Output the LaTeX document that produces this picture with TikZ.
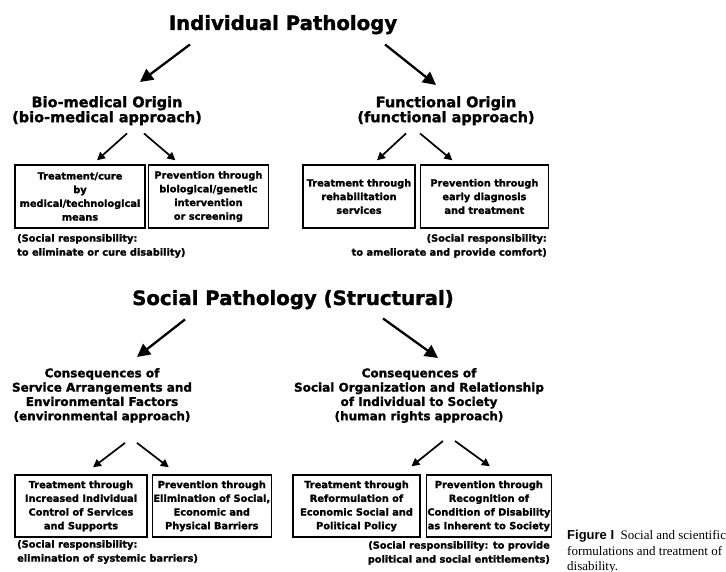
\documentclass[tikz,border=0pt]{standalone}
\usepackage{fontspec}
\setmainfont{DejaVu Sans}[BoldFeatures={FakeBold=1.5}]
\newfontfamily\captionserif{Liberation Serif}
\newfontfamily\captionsans{Liberation Sans}
\usepackage{tikz}
\usetikzlibrary{arrows.meta, positioning, calc}
\tikzstyle{pathology}   = [inner sep=0pt, font=\fontsize{19.7}{24}\selectfont\bfseries]
\tikzstyle{origin}      = [inner sep=0pt, align=center, font=\fontsize{14.5}{15}\selectfont\bfseries]
\tikzstyle{consequence} = [inner sep=0pt, align=center, font=\fontsize{12}{14.3}\selectfont\bfseries]
\tikzstyle{measure}     = [rectangle, draw=black, line width=1.4pt, minimum height=63pt, inner sep=1pt, align=center, font=\fontsize{9.8}{13.7}\selectfont\bfseries]
\tikzstyle{duty}        = [inner sep=0pt, font=\fontsize{9.8}{14}\selectfont\bfseries]
\tikzstyle{bigarrow}    = [line width=2.3pt, -{Triangle[length=13pt,width=13pt]}]
\tikzstyle{arrow}       = [line width=1.7pt, -{Triangle[length=8pt,width=8pt]}]

\begin{document}
\begin{tikzpicture}[x=1pt, y=-1pt]
    \useasboundingbox (0,0) rectangle (726,572);

    % individual pathology
    \node (indiv) [pathology, anchor=base] at (283,30) {Individual Pathology};
    \node (bio)   [origin, anchor=north] at (107,96) {Bio-medical Origin\\(bio-medical approach)};
    \node (func)  [origin, anchor=north] at (446,96) {Functional Origin\\(functional approach)};

    \node (tcure)  [measure, minimum width=130pt] at (80,196.5) {Treatment/cure\\by\\medical/technological\\means};
    \node (pbio)   [measure, minimum width=120pt, right=2pt of tcure] {Prevention through\\biological/genetic\\intervention\\or screening};
    \node (trehab) [measure, minimum width=112pt] at (359,196.5) {Treatment through\\rehabilitation\\services};
    \node (pearly) [measure, minimum width=128pt, right=4pt of trehab] {Prevention through\\early diagnosis\\and treatment};

    \node (dutya) [duty, anchor=north west, align=left]  at (17,234)  {(Social responsibility:\\to eliminate or cure disability)};
    \node (dutyb) [duty, anchor=north east, align=right] at (547,234) {(Social responsibility:\\to ameliorate and provide comfort)};

    \draw [bigarrow] ($(indiv.south)+(-93,10)$) -- ($(bio.north)+(33,-14)$);
    \draw [bigarrow] ($(indiv.south)+(102,10)$) -- ($(func.north)+(-10,-11)$);
    \draw [arrow] ($(bio.south)+(20,8)$)   -- ($(tcure.north)+(17,-4)$);
    \draw [arrow] ($(bio.south)+(37,8)$)   -- ($(pbio.north)+(-33,-4)$);
    \draw [arrow] ($(func.south)+(-40,8)$) -- ($(trehab.north)+(18,-4)$);
    \draw [arrow] ($(func.south)+(-26,8)$) -- ($(pearly.north)+(-32,-4)$);

    % social pathology
    \node (social)  [pathology, anchor=base] at (293,305) {Social Pathology (Structural)};
    \node (envcons) [consequence, anchor=north] at (102,368) {Consequences of\\Service Arrangements and\\Environmental Factors\\(environmental approach)};
    \node (socorg)  [consequence, anchor=north] at (419,368) {Consequences of\\Social Organization and Relationship\\of Individual to Society\\(human rights approach)};

    \node (tcontrol) [measure, minimum width=132pt, minimum height=62pt] at (81,506) {Treatment through\\Increased Individual\\Control of Services\\and Supports};
    \node (pelim)    [measure, minimum width=116pt, minimum height=62pt, right=4pt of tcontrol] {Prevention through\\Elimination of Social,\\Economic and\\Physical Barriers};
    \node (treform)  [measure, minimum width=127pt, minimum height=62pt] at (356.5,506) {Treatment through\\Reformulation of\\Economic Social and\\Political Policy};
    \node (precog)   [measure, minimum width=124pt, minimum height=62pt, right=5pt of treform] {Prevention through\\Recognition of\\Condition of Disability\\as Inherent to Society};

    \node (dutyc) [duty, anchor=north west, align=left]  at (17,540)  {(Social responsibility:\\elimination of systemic barriers)};
    \node (dutyd) [duty, anchor=north east, align=right] at (550,541) {(Social responsibility: to provide\\political and social entitlements)};

    \draw [bigarrow] ($(social.south)+(-108,10)$) -- ($(envcons.north)+(35,-11)$);
    \draw [bigarrow] ($(social.south)+(90,9)$)    -- ($(socorg.north)+(19,-10)$);
    \draw [arrow] ($(envcons.south)+(23,20)$) -- ($(tcontrol.north)+(12,-7)$);
    \draw [arrow] ($(envcons.south)+(35,20)$) -- ($(pelim.north)+(-43,-7)$);
    \draw [arrow] ($(socorg.south)+(24,18)$)  -- ($(treform.north)+(55,-8)$);
    \draw [arrow] ($(socorg.south)+(36,18)$)  -- ($(precog.north)+(1,-8)$);

    % caption
    \node (caption) [anchor=north west, align=left, inner sep=0pt, font=\captionserif\fontsize{13}{15.5}\selectfont] at (567,530)
        {{\captionsans\bfseries Figure I}\enspace Social and scientific\\formulations and treatment of\\disability.};

\end{tikzpicture}
\end{document}
